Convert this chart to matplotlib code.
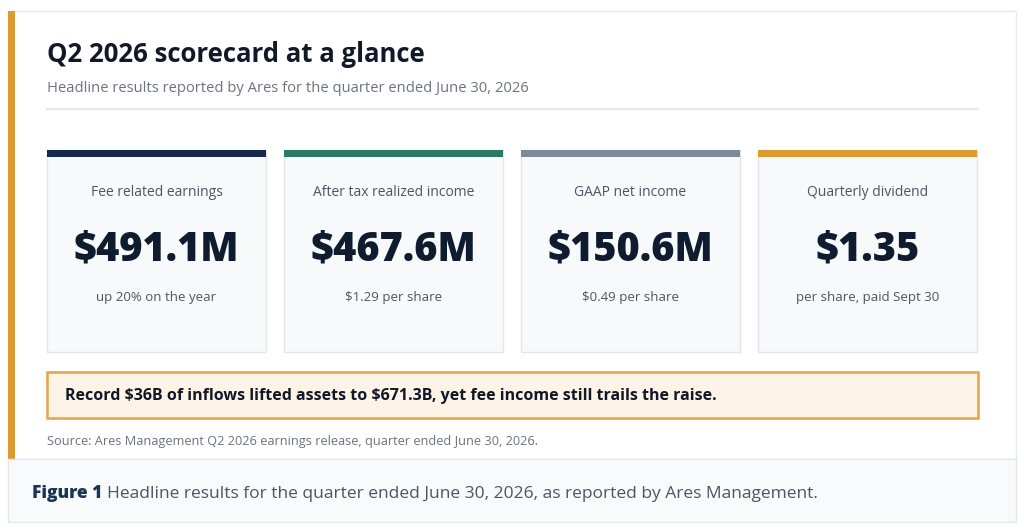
import matplotlib.pyplot as plt
from matplotlib.patches import Rectangle

plt.rcParams['font.family'] = ['Open Sans', 'DejaVu Sans']
plt.rcParams['text.parse_math'] = False

# Data
title = 'Q2 2026 scorecard at a glance'
subtitle = 'Headline results reported by Ares for the quarter ended June 30, 2026'
labels = ['Fee related earnings', 'After tax realized income', 'GAAP net income', 'Quarterly dividend']
values = ['$491.1M', '$467.6M', '$150.6M', '$1.35']
notes = ['up 20% on the year', '$1.29 per share', '$0.49 per share', 'per share, paid Sept 30']
accents = ['#14294b', '#2a7a68', '#7d8a9c', '#dc9a30']
callout = 'Record $36B of inflows lifted assets to $671.3B, yet fee income still trails the raise.'
source = 'Source: Ares Management Q2 2026 earnings release, quarter ended June 30, 2026.'
fig_tag = 'Figure 1'
fig_caption = 'Headline results for the quarter ended June 30, 2026, as reported by Ares Management.'

fig = plt.figure(figsize=(10.24, 5.30), dpi=100)
ax = fig.add_axes([0, 0, 1, 1])
ax.set_xlim(0, 1024)
ax.set_ylim(530, 0)
ax.axis('off')

# outer panel
ax.add_patch(Rectangle((8, 11), 1008, 448, facecolor='white', edgecolor='#e8eaee', lw=1))
ax.add_patch(Rectangle((8, 11), 7, 448, facecolor='#dc9a30', edgecolor='none'))

ax.text(47, 55, title, fontsize=18.5, fontweight='bold', color='#111827', va='center')
ax.text(47, 88, subtitle, fontsize=10.6, color='#6b7280', va='center')
ax.plot([47, 978], [109, 109], color='#e5e7eb', lw=1.5)

# cards
card_w, gap = 219, 18
for i in range(len(labels)):
    x0 = 47 + i * (card_w + gap)
    cx = x0 + card_w / 2
    ax.add_patch(Rectangle((x0, 150), card_w, 202, facecolor='#f7f9fb', edgecolor='#e2e6ec', lw=1))
    ax.add_patch(Rectangle((x0, 150), card_w, 7, facecolor=accents[i], edgecolor='none'))
    ax.text(cx, 193, labels[i], fontsize=10, color='#4b5563', ha='center', va='center')
    ax.text(cx, 250, values[i], fontsize=28.5, fontweight='heavy', color='#0f1b2e', ha='center', va='center')
    ax.text(cx, 297, notes[i], fontsize=9.5, color='#4b5563', ha='center', va='center')

# callout
ax.add_patch(Rectangle((47, 372), 931, 46, facecolor='#fdf3e6', edgecolor='#e3a44a', lw=1.8))
ax.text(65, 396, callout, fontsize=11.5, fontweight='bold', color='#111827', va='center')

ax.text(47, 441, source, fontsize=9.2, color='#6b7280', va='center')

# caption band
ax.add_patch(Rectangle((8, 459), 1008, 63, facecolor='#f8fafc', edgecolor='#e5e7eb', lw=1))
t = ax.text(32, 494, fig_tag, fontsize=12.5, fontweight='heavy', color='#1b3556', va='center')
fig.canvas.draw()
bb = t.get_window_extent()
x_end = ax.transData.inverted().transform((bb.x1, bb.y0))[0]
ax.text(x_end + 5, 494, fig_caption, fontsize=12.5, color='#4b5563', va='center')

fig.savefig('out.png', dpi=100)
